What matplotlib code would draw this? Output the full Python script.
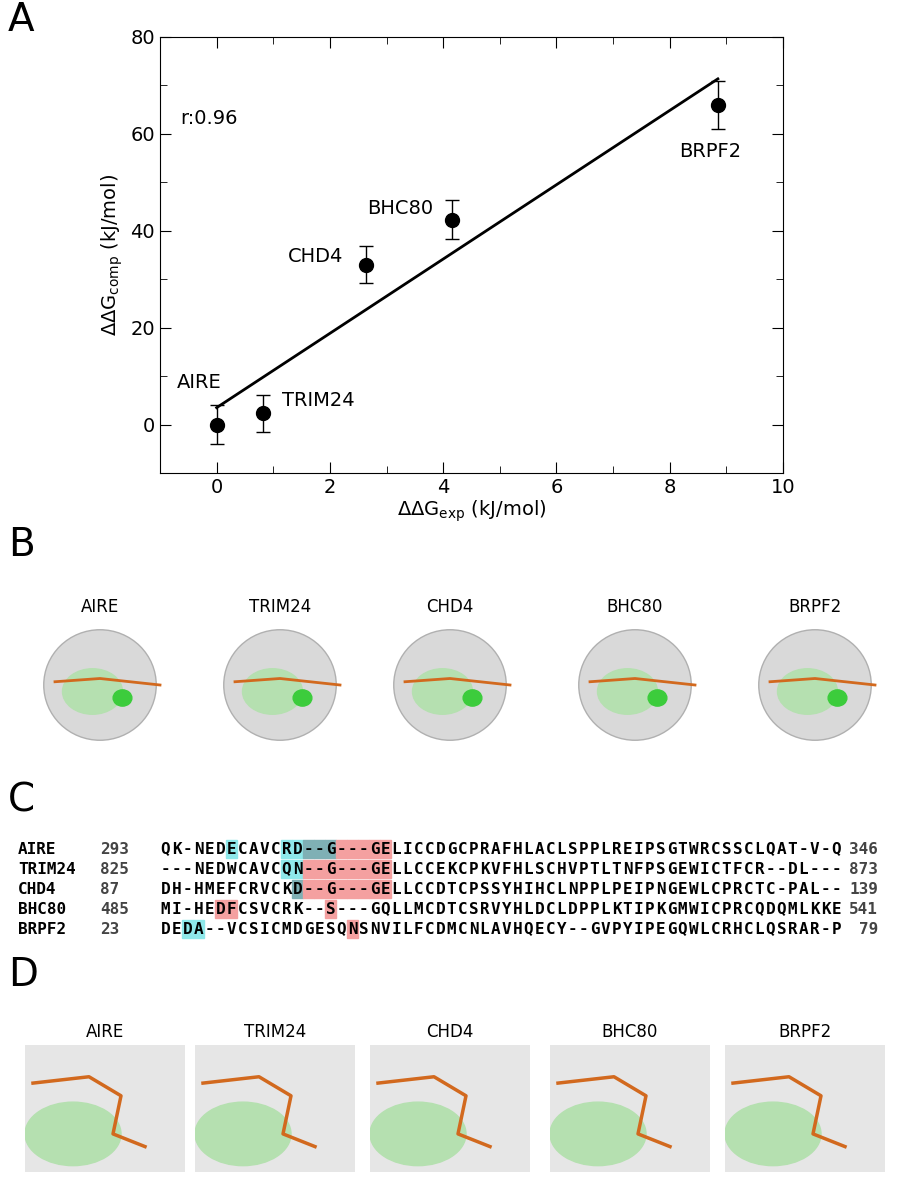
import matplotlib.pyplot as plt
import numpy as np
from matplotlib.patches import Rectangle, Ellipse
from matplotlib.ticker import MultipleLocator

# Panel A data
proteins = ['AIRE', 'TRIM24', 'CHD4', 'BHC80', 'BRPF2']
ddg_exp = [0.0, 0.82, 2.63, 4.15, 8.85]
ddg_comp = [0.0, 2.3, 33.0, 42.3, 66.0]
ddg_err = [4.0, 3.8, 3.8, 4.0, 5.0]
label_pos = [(-0.70, 8.6), (1.15, 5.0), (1.26, 34.7), (2.65, 44.5), (8.16, 56.3)]

# Panel C data
seq_start = [293, 825, 87, 485, 23]
seq_end = [346, 873, 139, 541, 79]
seqs = ['QK-NEDECAVCRD--G---GELICCDGCPRAFHLACLSPPLREIPSGTWRCSSCLQAT-V-Q',
        '---NEDWCAVCQN--G---GELLCCEKCPKVFHLSCHVPTLTNFPSGEWICTFCR--DL---',
        'DH-HMEFCRVCKD--G---GELLCCDTCPSSYHIHCLNPPLPEIPNGEWLCPRCTC-PAL--',
        'MI-HEDFCSVCRK--S---GQLLMCDTCSRVYHLDCLDPPLKTIPKGMWICPRCQDQMLKKE',
        'DEDA--VCSICMDGESQNSNVILFCDMCNLAVHQECY--GVPYIPEGQWLCRHCLQSRAR-P']
cyan_idx = [[6, 11, 12], [11, 12], [], [], [2, 3]]
teal_idx = [[13, 14, 15], [], [12], [], []]
red_idx = [[16, 17, 18, 19, 20], list(range(13, 21)), list(range(13, 21)), [5, 6, 15], [17]]

W, H = 897, 1180
fig = plt.figure(figsize=(W / 100, H / 100), dpi=100)

def fx(px):
    return px / W

def fy(py):
    return 1 - py / H

# ---- Panel A ----
ax = fig.add_axes([fx(160), fy(473), fx(783) - fx(160), fy(37) - fy(473)])
ax.errorbar(ddg_exp, ddg_comp, yerr=ddg_err, fmt='o', color='black',
            markersize=10, capsize=5, elinewidth=1, capthick=1)
slope, icpt = np.polyfit(ddg_exp, ddg_comp, 1)
xl = np.array([0, max(ddg_exp)])
ax.plot(xl, slope * xl + icpt, color='black', lw=2)
r = np.corrcoef(ddg_exp, ddg_comp)[0, 1]
ax.text(-0.65, 63.2, 'r:%.2f' % r, fontsize=14, va='center')
for name, (tx, ty) in zip(proteins, label_pos):
    ax.text(tx, ty, name, fontsize=14, va='center')
ax.set_xlim(-1, 10)
ax.set_ylim(-10, 80)
ax.set_xticks(range(0, 11, 2))
ax.set_yticks(range(0, 81, 20))
ax.xaxis.set_minor_locator(MultipleLocator(1))
ax.yaxis.set_minor_locator(MultipleLocator(10))
ax.tick_params(which='both', direction='in', top=True, right=True)
ax.tick_params(which='major', labelsize=14, length=8)
ax.tick_params(which='minor', length=5)
ax.set_xlabel(r'$\Delta\Delta$G$_{\mathrm{exp}}$ (kJ/mol)', fontsize=14, labelpad=1)
ax.set_ylabel(r'$\Delta\Delta$G$_{\mathrm{comp}}$ (kJ/mol)', fontsize=14)

# panel letters
for letter, px, py in [('A', 8, 20), ('B', 8, 545), ('C', 8, 800), ('D', 8, 975)]:
    fig.text(fx(px), fy(py), letter, fontsize=28, va='center')

# ---- Panel B (surface renderings, schematic) ----
b_centers = [100, 280, 450, 635, 815]
for name, cx in zip(proteins, b_centers):
    fig.text(fx(cx), fy(607), name, fontsize=12, ha='center', va='center')
    a = fig.add_axes([fx(cx - 75), fy(750), fx(150), fy(620) - fy(750)])
    a.set_xlim(-1, 1); a.set_ylim(-1, 1); a.axis('off')
    a.add_patch(Ellipse((0, 0), 1.5, 1.7, color='#d9d9d9', ec='#b0b0b0'))
    a.add_patch(Ellipse((-0.1, -0.1), 0.8, 0.7, color='#b5e0b0'))
    a.add_patch(Ellipse((0.3, -0.2), 0.25, 0.25, color='#3ccc3c'))
    a.plot([-0.6, 0.0, 0.8], [0.05, 0.1, 0.0], color='#d2691e', lw=2)

# ---- Panel C ----
rows_y = [849, 869, 889, 909, 929]
cw = 11.0
fs = 11.5
for k in range(5):
    y = fy(rows_y[k])
    fig.text(fx(18), y, proteins[k], fontsize=fs, family='DejaVu Sans Mono',
             weight='bold', va='center')
    fig.text(fx(100), y, str(seq_start[k]), fontsize=fs, family='DejaVu Sans Mono',
             weight='bold', va='center', color='#444444')
    fig.text(fx(878), y, str(seq_end[k]), fontsize=fs, family='DejaVu Sans Mono',
             weight='bold', va='center', ha='right', color='#444444')
    for idxs, col in [(cyan_idx[k], '#8ee8ea'), (teal_idx[k], '#7fb0b5'), (red_idx[k], '#f4a0a0')]:
        for i in idxs:
            fig.patches.append(Rectangle((fx(160 + i * cw), fy(rows_y[k] + 9)), fx(cw), fy(0) - fy(18),
                                         transform=fig.transFigure, color=col, zorder=0))
    for i, ch in enumerate(seqs[k]):
        fig.text(fx(160 + i * cw + cw / 2), y, ch, fontsize=fs, family='DejaVu Sans Mono',
                 weight='bold', va='center', ha='center')

# ---- Panel D (binding site close-ups, schematic) ----
d_centers = [105, 275, 450, 630, 805]
for name, cx in zip(proteins, d_centers):
    fig.text(fx(cx), fy(1032), name, fontsize=12, ha='center', va='center')
    a = fig.add_axes([fx(cx - 80), fy(1172), fx(160), fy(1045) - fy(1172)])
    a.set_xlim(0, 1); a.set_ylim(0, 1)
    a.set_xticks([]); a.set_yticks([])
    for s in a.spines.values():
        s.set_visible(False)
    a.set_facecolor('#e6e6e6')
    a.add_patch(Ellipse((0.3, 0.3), 0.6, 0.5, color='#b5e0b0'))
    a.plot([0.05, 0.4, 0.6, 0.55, 0.75], [0.7, 0.75, 0.6, 0.3, 0.2], color='#d2691e', lw=2.5)

fig.savefig('out.png', dpi=100)
